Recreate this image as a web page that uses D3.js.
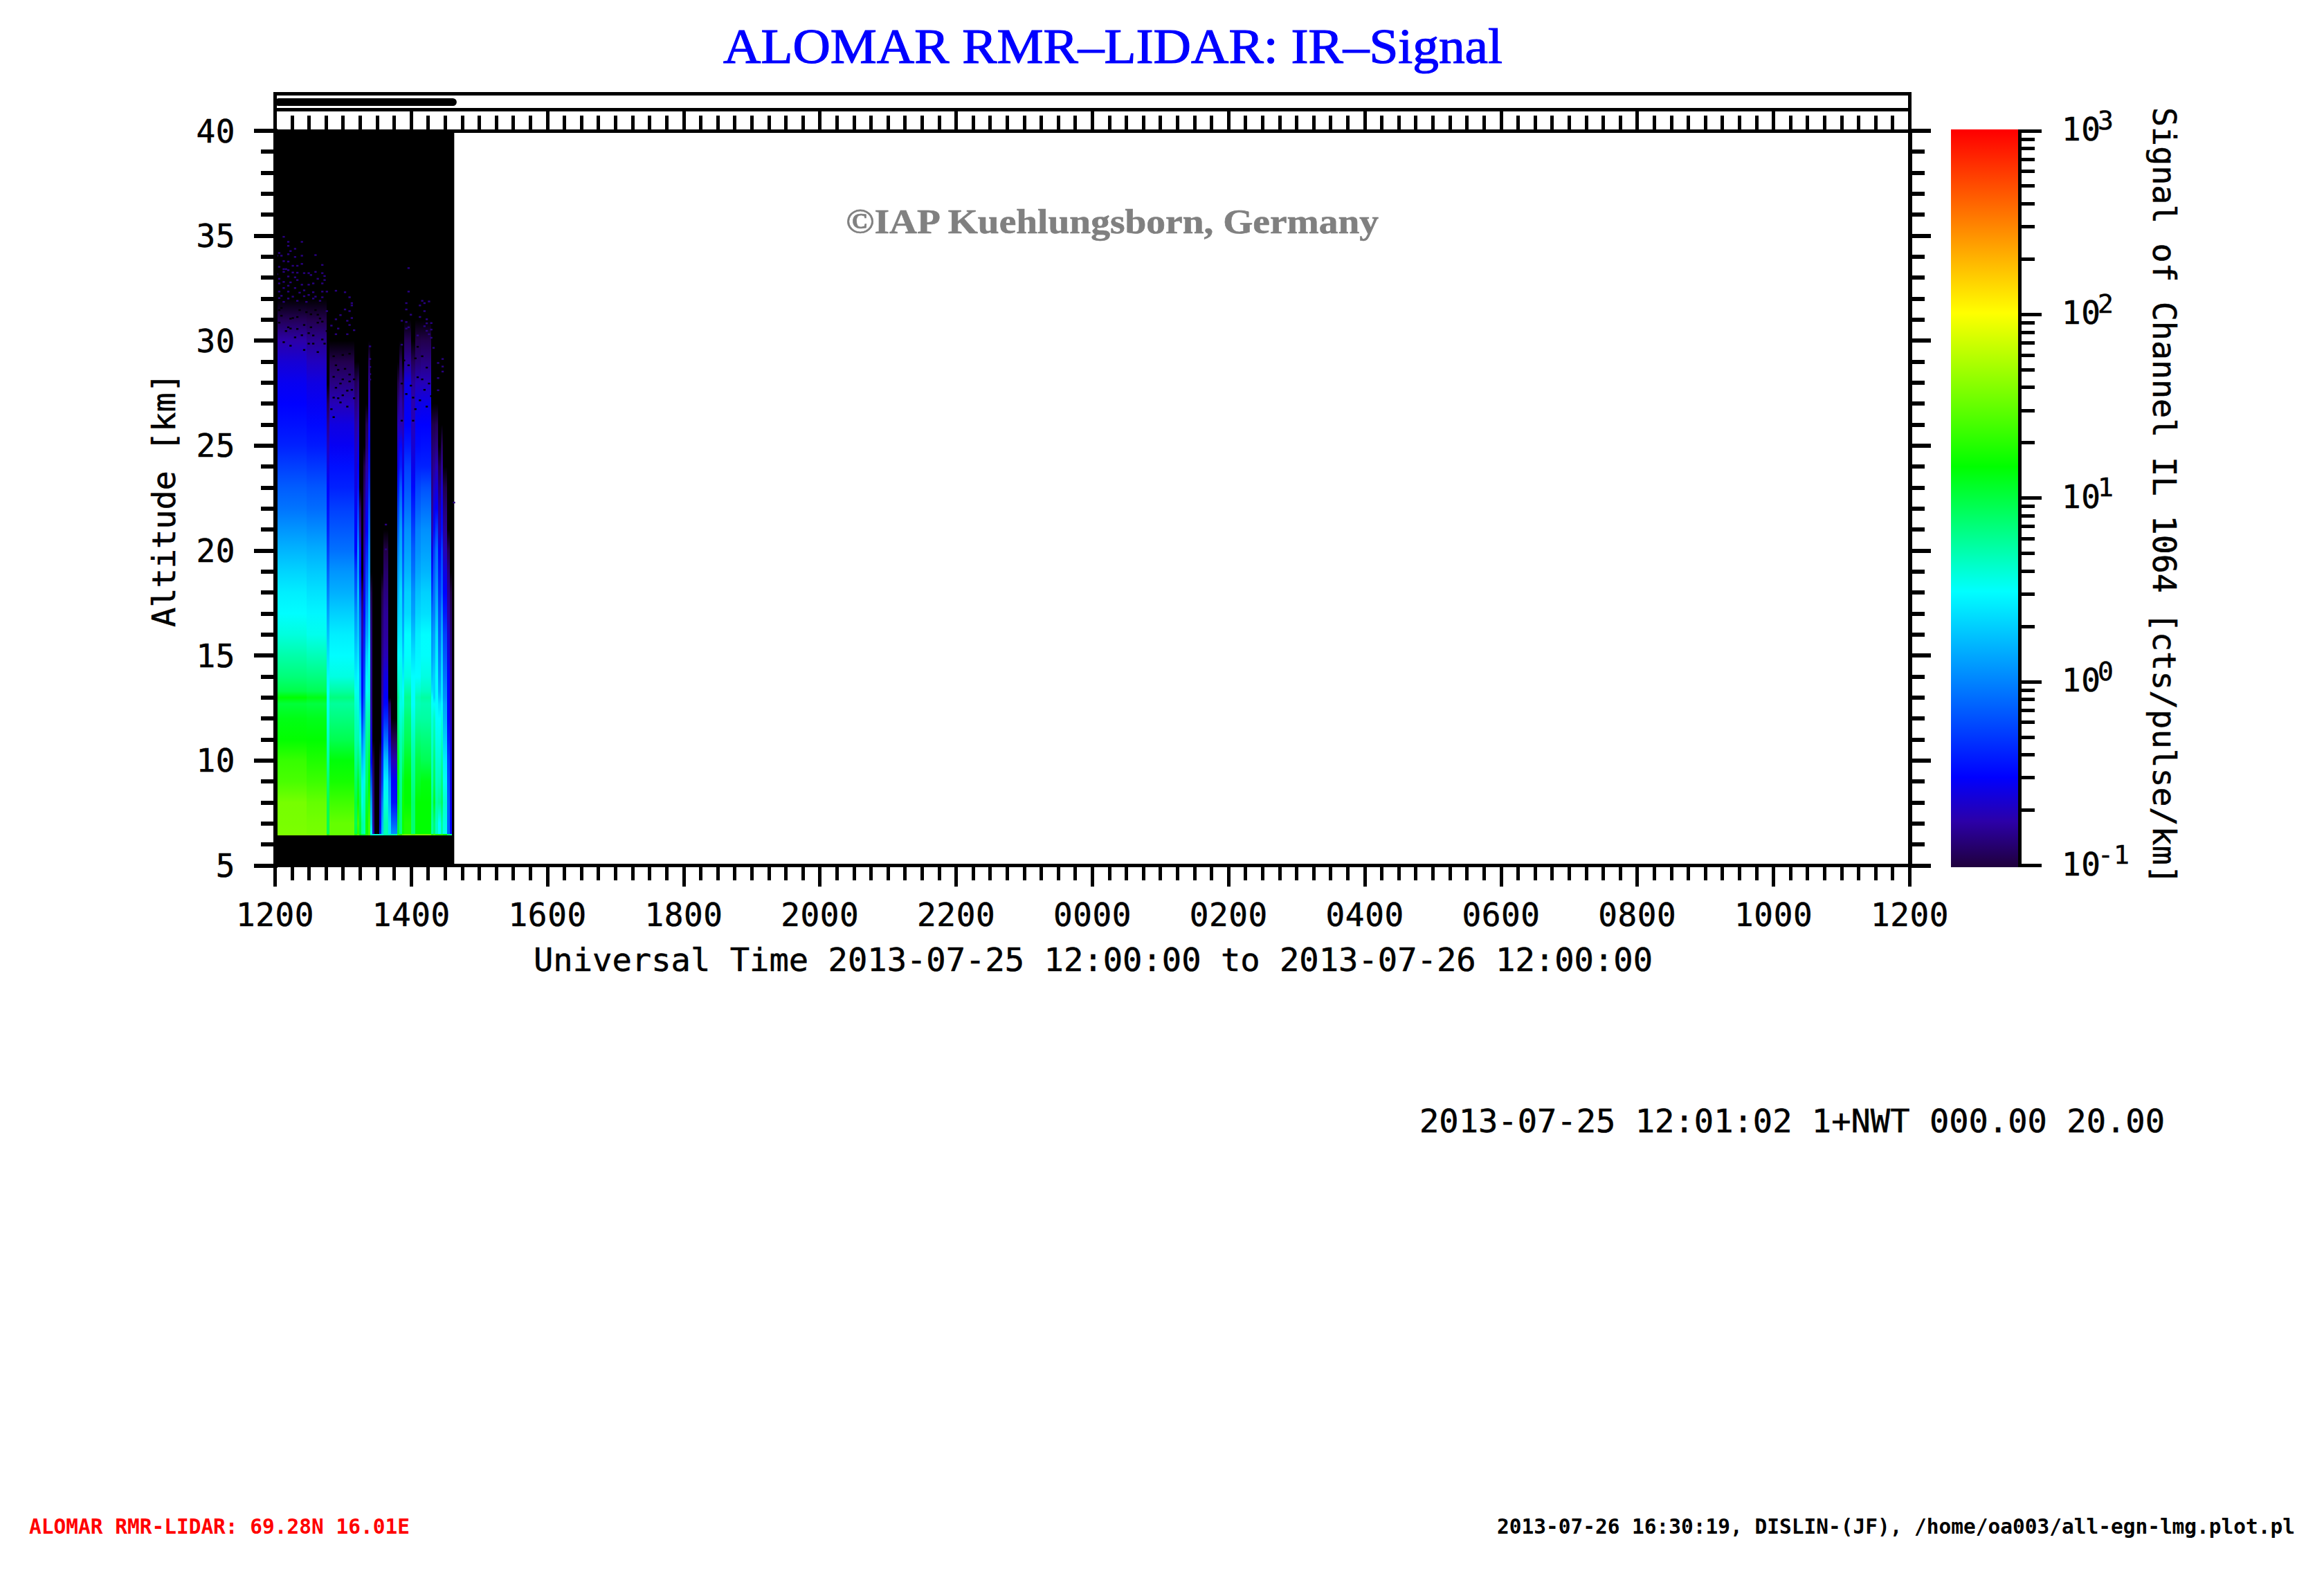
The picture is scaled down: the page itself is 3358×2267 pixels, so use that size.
<!DOCTYPE html>
<html><head><meta charset="utf-8">
<script src="https://cdn.jsdelivr.net/npm/d3@7"></script>
<style>
html,body{margin:0;padding:0;background:#fff;overflow:hidden}
svg{display:block}
text{font-family:"DejaVu Sans Mono",monospace;fill:#000;stroke:#000;stroke-width:.5px}
.domain{stroke:#000;fill:none;stroke-linecap:square}
.tick line{stroke:#000}
</style></head><body>
<svg id="c" width="3358" height="2267"></svg>
<script>
// ---------- texts ----------
const titleText = "ALOMAR RMR–LIDAR: IR–Signal";
const creditText = "©IAP Kuehlungsborn, Germany";
const xAxisTitle = "Universal Time 2013-07-25 12:00:00 to 2013-07-26 12:00:00";
const yAxisTitle = "Altitude [km]";
const colorAxisTitle = "Signal of Channel IL 1064 [cts/pulse/km]";
const stampText = "2013-07-25 12:01:02 1+NWT 000.00 20.00";
const siteText = "ALOMAR RMR-LIDAR: 69.28N 16.01E";
const fileText = "2013-07-26 16:30:19, DISLIN-(JF), /home/oa003/all-egn-lmg.plot.pl";
// ---------- axes ----------
const hoursMajor = d3.range(0, 25, 2);
const hourLabels = ["1200","1400","1600","1800","2000","2200","0000","0200","0400","0600","0800","1000","1200"];
const hoursMinor = d3.range(0, 24.01, 0.25);
const altMajor = [5,10,15,20,25,30,35,40];
const altMinor = d3.range(5, 41);
const colorMajor = [0.1,1,10,100,1000];
const colorExponents = ["-1","0","1","2","3"];
const colorMinor = [0.2,0.3,0.4,0.5,0.6,0.7,0.8,0.9,2,3,4,5,6,7,8,9,20,30,40,50,60,70,80,90,200,300,400,500,600,700,800,900];
// ---------- colour table (fraction of the log colour bar -> colour) ----------
const colorFractions = [0,0.06,0.12,0.373,0.543,0.752,1];
const colorValues = ["#200040","#2c00a8","#0000ff","#00ffff","#00ff00","#ffff00","#ff0000"];
// ---------- data: hours after 12:00, km, log10(signal) ----------
const measuredFrom = 0, measuredTo = 2.63, profileBottom = 6.5, surfaceBottom = 6.45;
const bandEdges = [0.01,0.46,0.76,0.80,1.16,1.20,1.23,1.27,1.30,1.33,1.37,1.40,1.43,1.46,1.53,1.56,1.59,1.66,1.70,1.79,1.82,1.86,1.89,2.0,2.06,2.14,2.29,2.32,2.35,2.39,2.43,2.46,2.52,2.57,2.60];
const profileAltitudes = [6.5,7,8,9,10,11,12,12.7,13,13.3,14,15,16,17,18,19,20,21,22,23,24,25,26,27,28,29,30,31,32];
const bandProfiles = [
[1.58,1.57,1.56,1.41,1.35,1.18,1.12,1.02,1.17,.98,.85,.72,.58,.49,.43,.32,.2,.07,-.06,-.15,-.27,-.39,-.46,-.52,-.56,-.64,-.76,-.95],
[1.56,1.55,1.5,1.37,1.27,1.17,1.1,1.0,1.12,.95,.83,.68,.54,.46,.38,.28,.17,.04,-.09,-.18,-.3,-.42,-.49,-.55,-.6,-.7,-.82,-.97],
[.95,.95,.95,.87,.74,.66,.57,.53,.55,.49,.46,.37,.24,.12,-.01,-.14,-.27,-.39,-.46,-.52,-.6,-.7,-.82,-.95],
[1.5,1.5,1.38,1.24,1.15,.96,.84,.76,.84,.74,.57,.49,.43,.31,.18,.07,-.07,-.17,-.27,-.39,-.46,-.55,-.6,-.72,-.85,-.97],
[1.0,.95,1.0,.91,.79,.7,.66,.6,.57,.53,.43,.31,.18,.05,-.14,-.27,-.52,-.52,-.55,-.6,-.65,-.7,-.78,-.85,-.95],
[1.3,1.38,1.22,1.05,.87,.72,.63,.57,.55,.53,.49,.4,.3,.24,.24,.1,.05,-.14,-.3,-.45,-.52,-.6,-.7,-.8,-.9],
[1.04,1.04,.95,.85,.74,.57,.37,.24,.18,.15,.12,0,-.07,-.2,-.39,-.5,-.58,-.8,-.9],
[.74,.74,.57,.43,.24,-.01,-.27,-.4,-.45,-.48,-.52,-.6,-.72,-.8,-.95],
[.7,.7,.66,.57,.37,.24,.05,-.05,-.1,-.14,-.2,-.3,-.39,-.5,-.58,-.65,-.72,-.8,-.85,-.9,-.98],
[1.22,1.22,1.04,.91,.87,.79,.7,.62,.57,.52,.43,.3,.12,0,-.14,-.25,-.39,-.52,-.58,-.68,-.78,-.88,-.95],
[1.38,1.38,1.27,1.17,1.04,.87,.74,.64,.6,.57,.57,.49,.37,.3,.24,.12,.05,-.07,-.2,-.35,-.46,-.52,-.6,-.7,-.8,-.95],
[.49,.3,.1,-.2,-.52,-.62,-.72,-.78,-.8,-.8,-.8,-.82,-.85,-.9,-.98],
[-.7,-.8,-.85,-.9,-.98],
[],
[-.4,-.52,-.7,-.85,-.98],
[.24,.18,-.01,-.27,-.39,-.52,-.62,-.72,-.75,-.78,-.8,-.84,-.88,-.92,-.98],
[.7,.7,.57,.43,.24,-.07,-.35,-.5,-.52,-.55,-.6,-.72,-.78,-.8,-.85,-.9,-.98],
[.37,.37,.18,.05,-.27,-.58,-.8,-.95],
[.05,-.14,-.46,-.52,-.72,-.95],
[1.04,1.04,1.13,1.17,1.13,.95,.79,.76,.79,.72,.61,.48,.37,.28,.18,.1,-.01,-.14,-.27,-.42,-.58,-.65,-.72,-.85,-.97],
[.83,.83,.83,.79,.74,.7,.61,.55,.57,.55,.57,.5,.43,.37,.37,.25,.18,.12,-.01,-.15,-.39,-.5,-.72,-.75,-.85,-.95],
[1.22,1.22,1.22,1.08,.91,.78,.66,.55,.52,.49,.43,.3,.18,.1,-.01,-.1,-.2,-.27,-.4,-.5,-.58,-.65,-.75,-.85,-.95],
[1.27,1.27,1.17,1.17,1.08,.95,.87,.78,.79,.72,.57,.5,.49,.35,.31,.2,.12,.05,-.07,-.18,-.27,-.42,-.52,-.56,-.6,-.8,-.95],
[.87,.87,.87,.8,.74,.66,.57,.5,.49,.49,.49,.37,.24,.12,.05,-.07,-.15,-.27,-.39,-.5,-.58,-.65,-.72,-.75,-.8,-.95],
[1.17,1.17,1.17,1.08,1.0,.87,.74,.68,.7,.62,.49,.46,.43,.33,.24,.14,.05,-.01,-.14,-.25,-.39,-.48,-.52,-.6,-.72,-.88,-.98],
[1.17,1.17,1.17,1.13,.95,.85,.74,.7,.74,.66,.57,.5,.49,.37,.31,.2,.12,.05,-.07,-.2,-.39,-.46,-.52,-.58,-.72,-.85,-.97],
[.74,.74,.79,.7,.66,.61,.57,.5,.49,.37,.24,.12,.05,-.07,-.27,-.42,-.58,-.72,-.8,-.84,-.85,-.9,-.98],
[.87,.87,1.08,.95,.87,.75,.66,.5,.31,.31,.31,.2,.12,-.01,-.07,-.15,-.27,-.46,-.58,-.68,-.8,-.88,-.98],
[.66,.66,.74,.66,.61,.55,.49,.49,.49,.49,.49,.43,.37,.24,.12,0,-.07,-.27,-.52,-.62,-.72,-.85,-.95],
[.49,.49,.79,.68,.61,.55,.49,.37,.24,.15,.05,-.04,-.14,-.22,-.33,-.42,-.52,-.72,-.8,-.88,-.98],
[.74,.74,.91,.83,.74,.64,.57,.47,.4,.4,.37,.28,.18,.05,-.14,-.2,-.27,-.46,-.55,-.65,-.8,-.95],
[.55,.57,.61,.52,.43,.3,.18,.12,.05,.02,-.07,-.18,-.27,-.42,-.52,-.6,-.72,-.8,-.88,-.98],
[-.14,-.14,-.14,-.2,-.27,-.42,-.52,-.52,-.52,-.52,-.52,-.6,-.65,-.75,-.8,-.85,-.95],
[-.5,-.52,-.58,-.6,-.58,-.65,-.72,-.78,-.8,-.8,-.8,-.85,-.88,-.92,-.98]
];
const surfaceRow = [1.59,1.59,1.3,1.5,1.3,1.4,1.2,1.0,1.0,1.3,1.4,.6,.6,.6,.6,.6,.7,.7,.7,1.4,1.3,1.5,1.55,1.5,1.55,1.55,1.3,1.4,1.3,1.3,1.3,1.2,.9,.8];
// isolated weak returns: 2-minute column number and altitude
const speckColumns = [3,5,11,5,8,6,1,5,8,11,17,0,2,3,5,11,7,9,20,1,5,3,4,0,7,9,12,14,15,17,20,21,8,5,3,18,9,6,3,1,21,20,16,11,14,1,5,3,8,12,1,10,5,16,20,22,26,30,14,2,7,12,20,32,33,17,1,16,5,3,9,13,19,33,30,32,22,26,28,33,24,27,31,32,34,31,26,58,58,57,57,59,64,65,67,63,65,63,66,57,58,55,68,66,65,68,57,66,62,67,68,69,55,41,41,41,41,41,73,71,73,73,71,71,78,48,48];
const speckAltitudes = [34.99,34.75,34.75,34.56,34.42,34.31,34.22,34.16,34.03,34.09,34.12,34.09,34.09,33.83,33.81,33.70,33.61,33.61,33.65,33.56,33.40,33.45,33.45,33.21,33.29,33.28,33.26,33.26,33.17,33.32,33.26,33.12,33.06,33.10,33.32,32.99,32.93,32.82,32.84,32.99,32.93,32.77,32.77,32.71,32.71,32.77,32.66,32.55,32.55,32.44,32.38,32.33,32.38,32.35,32.38,32.38,32.42,32.35,32.22,32.18,32.14,32.16,32.11,32.11,31.83,32.14,32.07,32.05,32.05,31.89,31.94,31.89,31.94,31.72,31.53,31.45,31.45,31.06,31.26,31.12,30.76,30.62,30.99,30.79,30.54,30.35,30.35,33.50,32.38,31.83,31.53,31.28,31.94,31.83,31.91,31.72,31.45,31.17,31.06,30.93,30.68,30.99,30.88,30.87,30.73,30.57,30.62,30.51,30.29,30.35,30.18,29.70,29.85,29.77,29.17,28.79,28.45,28.19,29.17,28.98,28.81,28.57,28.26,27.68,22.33,21.28,20.10];
const speckSignal = -0.85;
// dropouts (no signal) inside the noisy upper part of the profiles
const gapColumns = [7,15,6,3,16,18,14,9,1,5,18,20,12,2,6,25,29,26,32,25,28,32,25,29,31,34,24,28,32,27,55,60,64,67,58,61,55,66,62,60,64,2,10,13,17,19,4,8,11,16,20,22,6,12,18,21,15,1,9,14,26,30,33,27,31,25,29,34,57,59,62,65,68,56,63,66,61,69];
const gapAltitudes = [31.12,30.68,30.62,29.97,30.29,30.9,30.4,31.17,30.9,30.68,31.28,30.95,30.79,31.23,31.09,29.3,29.36,28.87,29.42,28.32,28.0,28.1,27.33,27.44,27.66,28.2,26.78,27.1,28.43,28.65,28.0,27.33,28.2,28.0,28.87,26.78,26.23,28.76,29.75,26.23,29.3,31.6,31.5,31.4,31.5,31.1,30.5,30.2,30.3,29.9,30.1,30.5,29.8,29.6,29.5,29.9,31.3,31.5,30.6,29.9,27.8,28.7,27.7,27.3,26.9,26.4,28.2,27.3,27.5,27.9,28.3,27.7,27.4,29.1,27.2,26.9,29.2,27.2];

// ---------- scales ----------
const svg = d3.select("#c");
const x = d3.scaleLinear().domain([0,24]).range([397.5,2759.5]);
const y = d3.scaleLinear().domain([5,40]).range([1250.5,189]);
const yc = d3.scaleLog().domain([0.1,1000]).range([1250.5,189]);
const ramp = d3.scaleLinear().domain(colorFractions).range(colorValues).clamp(true);
const logColor = v => ramp((v+1)/4);
const columnHours = c => 0.01 + c*2/60;
const defs = svg.append("defs");

// ---------- heat map ----------
const heat = svg.append("g");
heat.append("rect").attr("x",x(measuredFrom)-2.5).attr("y",y(40)).attr("width",x(measuredTo)-x(measuredFrom)+2.5).attr("height",y(5)-y(40)).attr("fill","#000");
bandProfiles.forEach((p,i)=>{
  if(p.length){
    const topAlt = profileAltitudes[Math.min(p.length,profileAltitudes.length-1)] + (p.length>=profileAltitudes.length?1:0);
    const span = topAlt - profileBottom;
    const g = defs.append("linearGradient").attr("id","b"+i).attr("gradientUnits","userSpaceOnUse")
      .attr("x1",0).attr("x2",0).attr("y1",y(profileBottom)).attr("y2",y(topAlt));
    p.forEach((v,j)=>g.append("stop").attr("offset",(profileAltitudes[j]-profileBottom)/span).attr("stop-color",logColor(v)));
    g.append("stop").attr("offset",1).attr("stop-color","#000");
    heat.append("rect").attr("x",x(bandEdges[i])).attr("y",y(topAlt))
      .attr("width",x(i+1<bandEdges.length?bandEdges[i+1]:measuredTo-0.03)-x(bandEdges[i]))
      .attr("height",y(profileBottom)-y(topAlt)).attr("fill","url(#b"+i+")").attr("shape-rendering","crispEdges");
  }
  heat.append("rect").attr("x",x(bandEdges[i])).attr("y",y(profileBottom))
    .attr("width",x(i+1<bandEdges.length?bandEdges[i+1]:measuredTo-0.03)-x(bandEdges[i]))
    .attr("height",y(surfaceBottom)-y(profileBottom)).attr("fill",logColor(surfaceRow[i])).attr("shape-rendering","crispEdges");
});
const cellH = y(0)-y(0.08), cellW = x(2/60)-x(0);
heat.selectAll("rect.gap").data(gapColumns).join("rect").attr("class","gap")
  .attr("x",c=>x(columnHours(c))).attr("y",(c,i)=>y(gapAltitudes[i]))
  .attr("width",cellW).attr("height",cellH).attr("fill","#000");
heat.selectAll("rect.speck").data(speckColumns).join("rect").attr("class","speck")
  .attr("x",c=>x(columnHours(c))).attr("y",(c,i)=>y(speckAltitudes[i]))
  .attr("width",cellW).attr("height",cellH).attr("fill",logColor(speckSignal));

// ---------- axes ----------
const MAJ=30.5, MIN=21;
function styleAxis(g,w){ g.attr("shape-rendering","crispEdges"); g.selectAll(".tick line").attr("stroke-width",w); g.select(".domain").attr("stroke-width",w); }
function addAxis(axisFn,scale,pos,vals,size,w,fmt){
  const a = axisFn(scale).tickValues(vals).tickSize(size).tickSizeOuter(0).offset(0).tickFormat(fmt||(()=>""));
  const g = svg.append("g").attr("transform",`translate(${pos[0]},${pos[1]})`).call(a);
  styleAxis(g,w); return g;
}
const notMajorHour = hoursMinor.filter(h=>h%2!==0);
const notMajorAlt = altMinor.filter(a=>a%5!==0);
// bottom
addAxis(d3.axisBottom,x,[0,y(5)],notMajorHour,MIN,5);
const gb = addAxis(d3.axisBottom,x,[0,y(5)],hoursMajor,MAJ,5,(d,i)=>hourLabels[i]);
gb.selectAll(".tick text").attr("y",1337.7-y(5)).attr("dy",0).attr("font-size",46).attr("letter-spacing",0.6).attr("text-anchor","middle").attr("font-family",'"DejaVu Sans Mono"');
// top
addAxis(d3.axisTop,x,[0,y(40)],notMajorHour,MIN+1,5);
addAxis(d3.axisTop,x,[0,y(40)],hoursMajor,MAJ,5);
// left
addAxis(d3.axisLeft,y,[x(0),0],notMajorAlt,MIN,6);
const gl = addAxis(d3.axisLeft,y,[x(0),0],altMajor,MAJ,6,d=>String(d));
gl.selectAll(".tick text").attr("x",340-x(0)).attr("dy",16.5).attr("font-size",46).attr("letter-spacing",0.6).attr("text-anchor","end").attr("font-family",'"DejaVu Sans Mono"');
// right
addAxis(d3.axisRight,y,[x(24),0],notMajorAlt,MIN,6);
addAxis(d3.axisRight,y,[x(24),0],altMajor,MAJ,6);

// coverage box above the plot
const boxTop = 135.5, boxMid = 158.5, barY = 147.5;
const box = svg.append("g").attr("stroke","#000").attr("stroke-width",5).attr("shape-rendering","crispEdges");
box.append("line").attr("x1",x(0)-2.5).attr("x2",x(24)+2.5).attr("y1",boxTop).attr("y2",boxTop);
box.append("line").attr("x1",x(0)-2.5).attr("x2",x(24)+2.5).attr("y1",boxMid).attr("y2",boxMid);
box.append("line").attr("x1",x(0)).attr("x2",x(0)).attr("y1",boxTop).attr("y2",y(40));
box.append("line").attr("x1",x(24)).attr("x2",x(24)).attr("y1",boxTop).attr("y2",y(40));
svg.append("line").attr("x1",x(0)+5).attr("x2",x(measuredTo)-2).attr("y1",barY).attr("y2",barY)
  .attr("stroke","#000").attr("stroke-width",11).attr("stroke-linecap","round");

// ---------- colour bar ----------
const cbX = 2918.5, cbLeft = 2819;
const cg = defs.append("linearGradient").attr("id","cbar").attr("gradientUnits","userSpaceOnUse")
  .attr("x1",0).attr("x2",0).attr("y1",yc(0.1)).attr("y2",yc(1000));
colorFractions.forEach((f,i)=>cg.append("stop").attr("offset",f).attr("stop-color",colorValues[i]));
svg.append("rect").attr("x",cbLeft).attr("y",yc(1000)-2).attr("width",cbX-2.5-cbLeft).attr("height",yc(0.1)-yc(1000)+4.5).attr("fill","url(#cbar)");
addAxis(d3.axisRight,yc,[cbX,0],colorMinor,MIN,5);
addAxis(d3.axisRight,yc,[cbX,0],colorMajor,31.5,5);
svg.selectAll("text.cl").data(colorMajor).join("text").attr("class","cl")
  .attr("x",2979).attr("y",d=>yc(d)+14).attr("font-size",46).attr("letter-spacing",0.6)
  .each(function(d,i){
    const t=d3.select(this);
    t.append("tspan").text("10");
    t.append("tspan").attr("x",3031).attr("y",yc(d)-2.5).attr("font-size",38).attr("letter-spacing",0).text(colorExponents[i]);
  });

// ---------- texts ----------
function label(s,x0,y0,size,len,opt={}){
  const t = svg.append("text").text(s).attr("font-size",size).attr("textLength",len).attr("lengthAdjust","spacingAndGlyphs");
  if(opt.rotate!==undefined) t.attr("transform",`translate(${x0},${y0}) rotate(${opt.rotate})`);
  else t.attr("x",x0).attr("y",y0);
  if(opt.family) t.style("font-family",opt.family);
  if(opt.weight) t.attr("font-weight",opt.weight);
  if(opt.fill) t.style("fill",opt.fill).style("stroke",opt.fill);
  if(opt.stroke!==undefined) t.style("stroke-width",opt.stroke+"px");
  return t;
}
label(titleText,1045,90.7,71,1126,{family:'"Liberation Serif"',fill:"#0000ff",stroke:1.2});
label(creditText,1222,337,51,770,{family:'"Liberation Serif"',weight:"bold",fill:"#808080",stroke:0.6});
label(xAxisTitle,771,1402.7,46,1617);
label(yAxisTitle,253,906,46,367,{rotate:-90});
label(colorAxisTitle,3111,155,46,1123,{rotate:90});
label(stampText,2051,1636,46,1077);
label(siteText,42,2215.7,30,550,{weight:"bold",fill:"#ff0000",stroke:0});
label(fileText,2163,2216,30,1153,{weight:"bold",stroke:0});
</script>
</body></html>
